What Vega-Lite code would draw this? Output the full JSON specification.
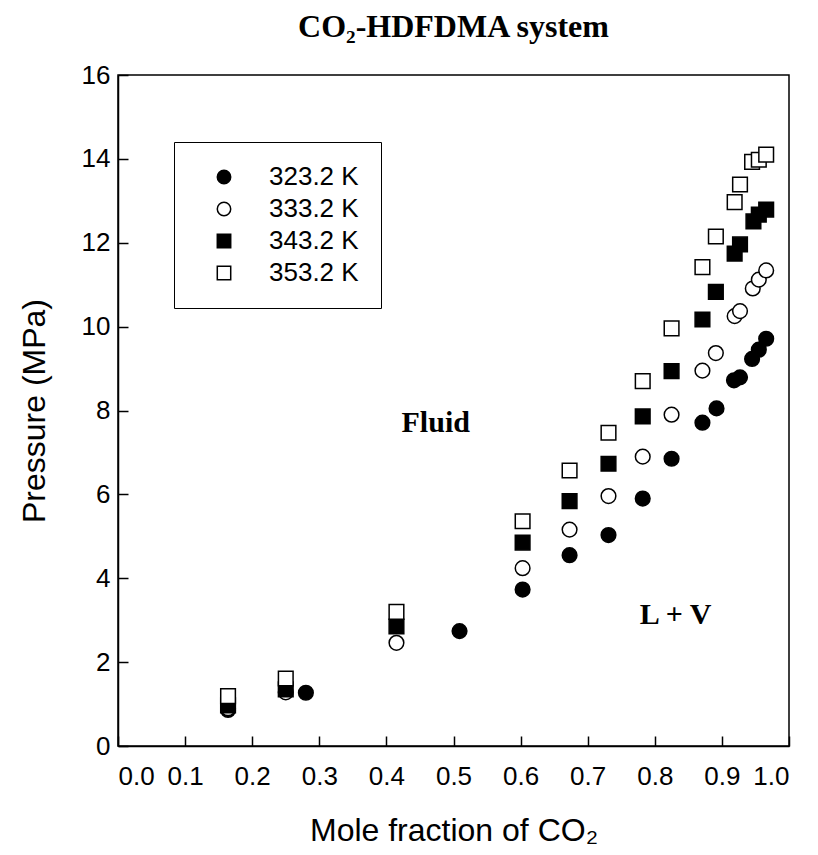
{
  "$schema": "https://vega.github.io/schema/vega-lite/v6.json",
  "width": 671,
  "height": 671,
  "autosize": "none",
  "padding": {"left": 118, "top": 75, "right": 29, "bottom": 109},
  "background": "white",
  "title": {
    "text": "CO₂-HDFDMA system",
    "font": "Liberation Serif",
    "fontWeight": "bold",
    "fontSize": 32,
    "color": "black",
    "anchor": "middle",
    "frame": "group",
    "baseline": "alphabetic",
    "offset": -7
  },
  "config": {
    "view": {"stroke": "black", "strokeWidth": 1.5},
    "axis": {
      "grid": false,
      "domainColor": "black",
      "domainWidth": 1.5,
      "tickColor": "black",
      "tickWidth": 1.5,
      "tickSize": -10,
      "labelFont": "Liberation Sans",
      "labelFontSize": 26,
      "labelColor": "black",
      "titleFont": "Liberation Sans",
      "titleFontSize": 32,
      "titleFontWeight": "normal",
      "titleColor": "black"
    },
    "legend": {
      "strokeColor": "black",
      "fillColor": "white",
      "padding": 22,
      "labelFont": "Liberation Sans",
      "labelFontSize": 26,
      "labelColor": "black",
      "labelOffset": 32,
      "symbolOffset": 15,
      "symbolSize": 180,
      "rowPadding": 6
    }
  },
  "layer": [
    {
      "data": {
        "values": [
          {"x": 0.164, "p": 0.86, "T": "323.2 K"},
          {"x": 0.280, "p": 1.27, "T": "323.2 K"},
          {"x": 0.509, "p": 2.74, "T": "323.2 K"},
          {"x": 0.603, "p": 3.73, "T": "323.2 K"},
          {"x": 0.673, "p": 4.55, "T": "323.2 K"},
          {"x": 0.731, "p": 5.03, "T": "323.2 K"},
          {"x": 0.782, "p": 5.90, "T": "323.2 K"},
          {"x": 0.825, "p": 6.85, "T": "323.2 K"},
          {"x": 0.871, "p": 7.71, "T": "323.2 K"},
          {"x": 0.892, "p": 8.05, "T": "323.2 K"},
          {"x": 0.918, "p": 8.72, "T": "323.2 K"},
          {"x": 0.927, "p": 8.79, "T": "323.2 K"},
          {"x": 0.945, "p": 9.23, "T": "323.2 K"},
          {"x": 0.955, "p": 9.45, "T": "323.2 K"},
          {"x": 0.966, "p": 9.71, "T": "323.2 K"},
          {"x": 0.164, "p": 0.90, "T": "333.2 K"},
          {"x": 0.250, "p": 1.28, "T": "333.2 K"},
          {"x": 0.415, "p": 2.46, "T": "333.2 K"},
          {"x": 0.603, "p": 4.24, "T": "333.2 K"},
          {"x": 0.673, "p": 5.16, "T": "333.2 K"},
          {"x": 0.731, "p": 5.96, "T": "333.2 K"},
          {"x": 0.782, "p": 6.90, "T": "333.2 K"},
          {"x": 0.825, "p": 7.90, "T": "333.2 K"},
          {"x": 0.871, "p": 8.95, "T": "333.2 K"},
          {"x": 0.891, "p": 9.37, "T": "333.2 K"},
          {"x": 0.919, "p": 10.25, "T": "333.2 K"},
          {"x": 0.927, "p": 10.37, "T": "333.2 K"},
          {"x": 0.946, "p": 10.91, "T": "333.2 K"},
          {"x": 0.955, "p": 11.12, "T": "333.2 K"},
          {"x": 0.966, "p": 11.34, "T": "333.2 K"},
          {"x": 0.164, "p": 0.97, "T": "343.2 K"},
          {"x": 0.250, "p": 1.35, "T": "343.2 K"},
          {"x": 0.415, "p": 2.85, "T": "343.2 K"},
          {"x": 0.603, "p": 4.85, "T": "343.2 K"},
          {"x": 0.673, "p": 5.84, "T": "343.2 K"},
          {"x": 0.731, "p": 6.73, "T": "343.2 K"},
          {"x": 0.782, "p": 7.86, "T": "343.2 K"},
          {"x": 0.825, "p": 8.94, "T": "343.2 K"},
          {"x": 0.871, "p": 10.17, "T": "343.2 K"},
          {"x": 0.891, "p": 10.83, "T": "343.2 K"},
          {"x": 0.919, "p": 11.74, "T": "343.2 K"},
          {"x": 0.927, "p": 11.96, "T": "343.2 K"},
          {"x": 0.947, "p": 12.51, "T": "343.2 K"},
          {"x": 0.955, "p": 12.67, "T": "343.2 K"},
          {"x": 0.966, "p": 12.79, "T": "343.2 K"},
          {"x": 0.164, "p": 1.19, "T": "353.2 K"},
          {"x": 0.250, "p": 1.61, "T": "353.2 K"},
          {"x": 0.415, "p": 3.20, "T": "353.2 K"},
          {"x": 0.603, "p": 5.36, "T": "353.2 K"},
          {"x": 0.673, "p": 6.57, "T": "353.2 K"},
          {"x": 0.731, "p": 7.47, "T": "353.2 K"},
          {"x": 0.782, "p": 8.70, "T": "353.2 K"},
          {"x": 0.825, "p": 9.96, "T": "353.2 K"},
          {"x": 0.871, "p": 11.42, "T": "353.2 K"},
          {"x": 0.891, "p": 12.15, "T": "353.2 K"},
          {"x": 0.919, "p": 12.97, "T": "353.2 K"},
          {"x": 0.927, "p": 13.39, "T": "353.2 K"},
          {"x": 0.945, "p": 13.93, "T": "353.2 K"},
          {"x": 0.955, "p": 13.98, "T": "353.2 K"},
          {"x": 0.966, "p": 14.10, "T": "353.2 K"}
        ]
      },
      "mark": {"type": "point", "filled": true, "stroke": "black", "strokeWidth": 1.5, "size": 215, "opacity": 1},
      "encoding": {
        "x": {
          "field": "x", "type": "quantitative",
          "scale": {"domain": [0, 1], "nice": false, "zero": false},
          "axis": {"values": [0, 0.1, 0.2, 0.3, 0.4, 0.5, 0.6, 0.7, 0.8, 0.9, 1.0], "format": ".1f", "labelPadding": 27, "title": "Mole fraction of CO₂", "titlePadding": 26}
        },
        "y": {
          "field": "p", "type": "quantitative",
          "scale": {"domain": [0, 16], "nice": false},
          "axis": {"values": [0, 2, 4, 6, 8, 10, 12, 14, 16], "labelPadding": 18, "title": "Pressure (MPa)", "titlePadding": 30}
        },
        "shape": {
          "field": "T", "type": "nominal",
          "scale": {"domain": ["323.2 K", "333.2 K", "343.2 K", "353.2 K"], "range": ["circle", "circle", "square", "square"]},
          "legend": {
            "title": null, "orient": "none", "legendX": 56, "legendY": 67,
            "encode": {"symbols": {"update": {"stroke": {"value": "black"}, "strokeWidth": {"value": 1.5}}}}
          }
        },
        "fill": {
          "field": "T", "type": "nominal",
          "scale": {"domain": ["323.2 K", "333.2 K", "343.2 K", "353.2 K"], "range": ["black", "white", "black", "white"]},
          "legend": {
            "title": null, "orient": "none", "legendX": 56, "legendY": 67,
            "encode": {"symbols": {"update": {"stroke": {"value": "black"}, "strokeWidth": {"value": 1.5}}}}
          }
        }
      }
    },
    {
      "data": {
        "values": [
          {"x": 0.4735, "p": 7.48, "label": "Fluid"},
          {"x": 0.831, "p": 2.90, "label": "L + V"}
        ]
      },
      "mark": {"type": "text", "font": "Liberation Serif", "fontWeight": "bold", "fontSize": 30, "align": "center", "baseline": "alphabetic", "color": "black"},
      "encoding": {
        "x": {"field": "x", "type": "quantitative"},
        "y": {"field": "p", "type": "quantitative"},
        "text": {"field": "label", "type": "nominal"}
      }
    }
  ]
}
